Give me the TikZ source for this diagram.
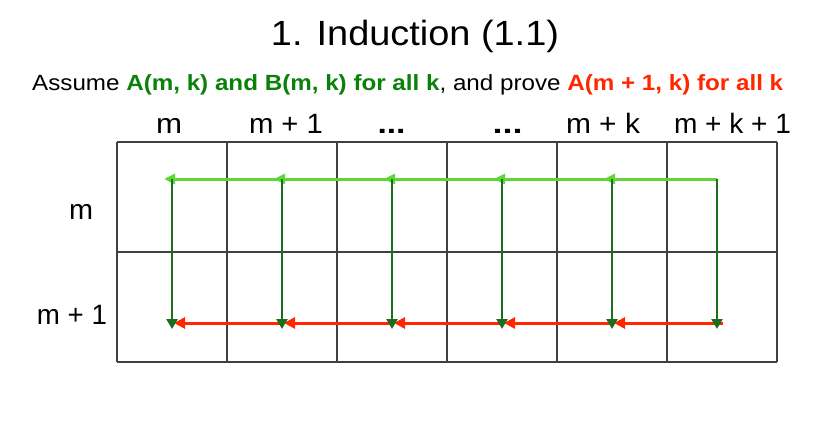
\documentclass[tikz,border=0pt]{standalone}
\usepackage{fontspec}
\setmainfont{Liberation Sans}
\usetikzlibrary{arrows.meta}
\definecolor{txtgreen}{RGB}{10,130,10}
\definecolor{txtred}{RGB}{255,38,0}
\definecolor{lgreen}{RGB}{95,214,52}
\definecolor{dgreen}{RGB}{27,110,27}
\definecolor{arred}{RGB}{255,38,0}
\newcommand{\wbox}[2]{\resizebox{#1pt}{\height}{#2}}
\begin{document}
\begin{tikzpicture}[x=1pt,y=-1pt,
  lbl/.style={inner sep=0pt, anchor=base},
  gridln/.style={draw=black!75, line width=1.1pt},
  topar/.style={draw=lgreen, line width=3pt, -{Triangle[length=11pt,width=10pt]}},
  downar/.style={draw=dgreen, line width=2.8pt, -{Triangle[length=10pt,width=11pt]}},
  botar/.style={draw=arred, line width=3pt, -{Triangle[length=11pt,width=11pt]}},
  hdr/.style={lbl, font=\fontsize{28}{32}\selectfont}]
\useasboundingbox (0,0) rectangle (830,425);
% title and statement
\node[lbl, font=\fontsize{35}{40}\selectfont] (title) at (415,46) {\wbox{288}{1. Induction (1.1)}};
\node[lbl, anchor=base west, font=\fontsize{22}{26}\selectfont] (subtitle) at (32,91)
  {\wbox{751}{Assume \textcolor{txtgreen}{\bfseries A(m, k) and B(m, k) for all k}, and prove \textcolor{txtred}{\bfseries A(m + 1, k) for all k}}};
% column headers
\node[hdr] (h1) at (169,134) {\wbox{26}{m}};
\node[hdr] (h2) at (286,134) {\wbox{74}{m + 1}};
\node[hdr] (h3) at (391.5,134) {\wbox{28}{\bfseries ...}};
\node[hdr] (h4) at (507.5,134) {\wbox{30}{\bfseries ...}};
\node[hdr] (h5) at (603,134) {\wbox{74}{m + k}};
\node[hdr] (h6) at (732.5,134) {\wbox{117}{m + k + 1}};
% row headers
\node[hdr] (r1) at (81,219) {\wbox{24}{m}};
\node[hdr] (r2) at (72,324) {\wbox{70}{m + 1}};
% grid
\foreach \gx in {117,227,337,447,557,667,777} \draw[gridln] (\gx,142) -- (\gx,362);
\foreach \gy in {142,252,362} \draw[gridln] (117,\gy) -- (777,\gy);
% arrow anchor points
\foreach \i/\px in {1/172,2/282,3/392,4/502,5/612,6/717} {
  \coordinate (t\i) at (\px,179);
  \coordinate (b\i) at (\px,323);
  \coordinate (tb\i) at (\px,329);
  \coordinate (te\i) at (\px-8,179);
  \coordinate (be\i) at (\px+2,323);
}
\coordinate (rstart) at (723,323);
% top light green chain
\draw[topar] (t6) -- (te5);
\draw[topar] (t5) -- (te4);
\draw[topar] (t4) -- (te3);
\draw[topar] (t3) -- (te2);
\draw[topar] (t2) -- (te1);
% bottom red chain
\draw[botar] (rstart) -- (be5);
\draw[botar] (b5) -- (be4);
\draw[botar] (b4) -- (be3);
\draw[botar] (b3) -- (be2);
\draw[botar] (b2) -- (be1);
% vertical dark green arrows
\foreach \i in {1,...,6} \draw[downar] (t\i) -- (tb\i);
\end{tikzpicture}
\end{document}
